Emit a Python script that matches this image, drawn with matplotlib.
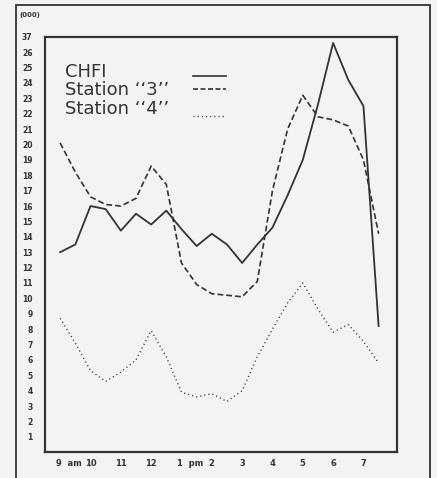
import matplotlib.pyplot as plt
from matplotlib.patches import Rectangle

# time of day (24h, half hour steps) and audience in thousands
hours = [9, 9.5, 10, 10.5, 11, 11.5, 12, 12.5, 13, 13.5, 14, 14.5,
         15, 15.5, 16, 16.5, 17, 17.5, 18, 18.5, 19, 19.5]
chfi = [13.0, 13.5, 16.0, 15.8, 14.4, 15.5, 14.8, 15.7, 14.5, 13.4, 14.2, 13.5,
        12.3, 13.5, 14.6, 16.7, 19.0, 22.6, 26.6, 24.2, 22.5, 8.2]
station3 = [20.1, 18.2, 16.6, 16.1, 16.0, 16.5, 18.6, 17.4, 12.3, 10.9, 10.3, 10.2,
            10.1, 11.1, 17.0, 21.0, 23.2, 21.8, 21.6, 21.2, 19.0, 14.2]
station4 = [8.7, 7.1, 5.3, 4.6, 5.2, 6.0, 7.9, 6.2, 3.9, 3.6, 3.8, 3.3,
            4.0, 6.2, 8.0, 9.7, 11.0, 9.3, 7.8, 8.3, 7.2, 5.8]

xticks = [9, 10, 11, 12, 13, 14, 15, 16, 17, 18, 19]
xlabels = ["9  am", "10", "11", "12", "1  pm", "2", "3", "4", "5", "6", "7"]
yticks = list(range(1, 28))
ylabels = [str(v) for v in range(1, 27)] + ["37"]

bg = "#f3f3f3"
ink = "#333333"

fig = plt.figure(figsize=(4.37, 4.78), dpi=100, facecolor=bg)
ax = fig.add_axes([0.103, 0.054, 0.805, 0.869], facecolor=bg)

ax.plot(hours, chfi, color=ink, lw=1.3)
ax.plot(hours, station3, color=ink, lw=1.2, dashes=(3.5, 1.8))
ax.plot(hours, station4, color=ink, lw=1.0, dashes=(0.8, 2.2))

ax.set_xlim(8.5, 20.1)
ax.set_ylim(0, 27)
ax.set_xticks([h + 0.3 if l.endswith("m") else h for h, l in zip(xticks, xlabels)])
ax.set_xticklabels(xlabels, fontsize=6, fontweight="bold", color=ink)
ax.set_yticks(yticks)
ax.set_yticklabels(ylabels, fontsize=5.5, fontweight="bold", color=ink)
ax.tick_params(length=0)
ax.tick_params(axis="y", pad=9)
ax.tick_params(axis="x", pad=5)
for s in ax.spines.values():
    s.set_color(ink)
    s.set_linewidth(1.6)

# legend, typed like the original sheet
fam = ["DejaVu Sans"]
ax.text(0.058, 0.916, "CHFI", transform=ax.transAxes, fontsize=13, family=fam, color=ink, va="center")
ax.text(0.058, 0.871, "Station \u2018\u20183\u2019\u2019", transform=ax.transAxes, fontsize=13, family=fam, color=ink, va="center")
ax.text(0.058, 0.826, "Station \u2018\u20184\u2019\u2019", transform=ax.transAxes, fontsize=13, family=fam, color=ink, va="center")
ax.plot([0.42, 0.515], [0.906, 0.906], transform=ax.transAxes, color=ink, lw=1.2)
ax.plot([0.42, 0.515], [0.875, 0.875], transform=ax.transAxes, color=ink, lw=1.2, dashes=(3, 1.5))
ax.plot([0.42, 0.515], [0.81, 0.81], transform=ax.transAxes, color=ink, lw=1.0, dashes=(0.8, 2.2))

# outer frame of the page
fig.patches.append(Rectangle((0.037, -0.02), 0.947, 1.009, transform=fig.transFigure,
                             fill=False, edgecolor=ink, lw=1.3))
fig.text(0.045, 0.965, "(000)", fontsize=5, fontweight="bold", color=ink)

fig.savefig("out.png", dpi=100, facecolor=bg)
